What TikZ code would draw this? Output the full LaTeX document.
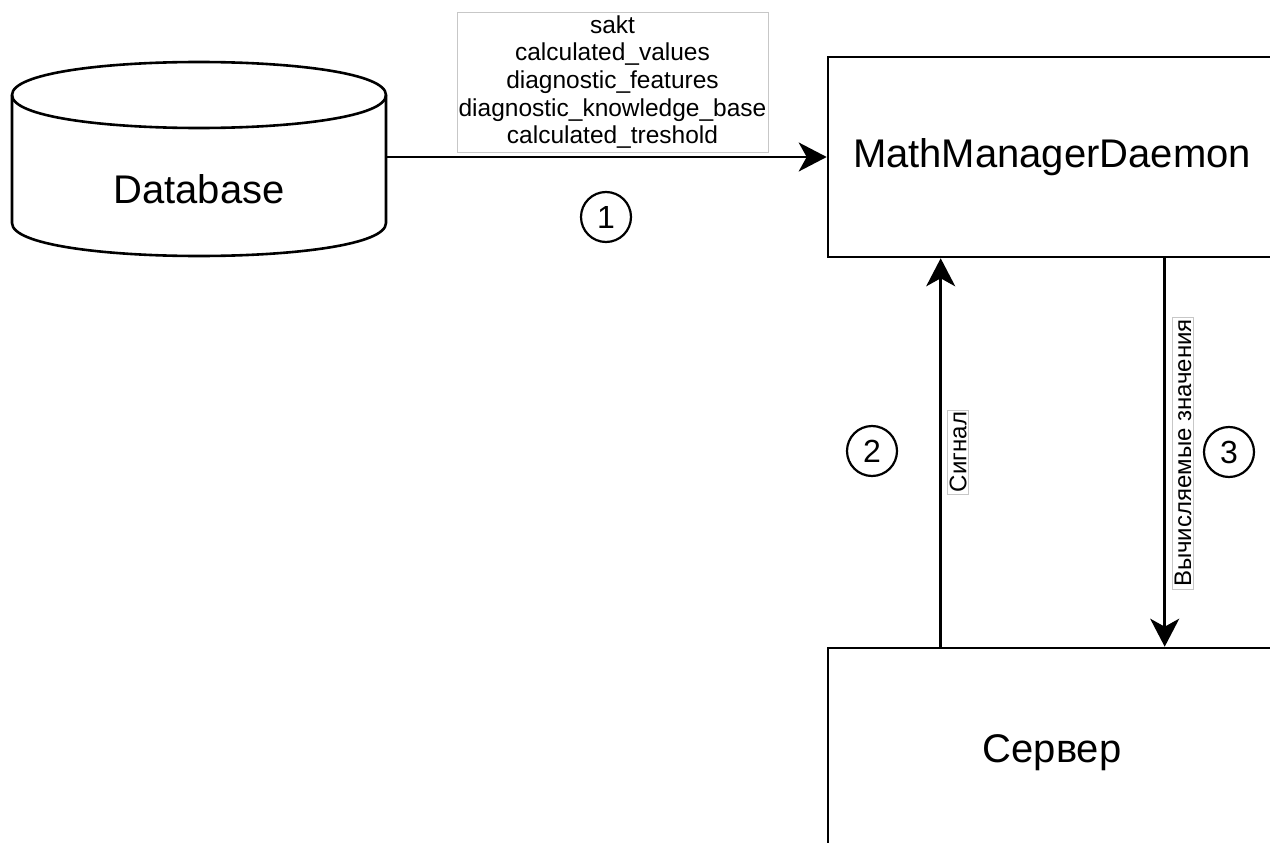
\documentclass[tikz,border=0pt]{standalone}
\usepackage{fontspec}
\setmainfont{Liberation Sans}
\usetikzlibrary{arrows.meta}
\begin{document}
\begin{tikzpicture}[x=1pt,y=-1pt,
  line/.style={line width=2.6pt, draw=black},
  conn/.style={line, -{Stealth[length=28pt,width=29pt,inset=8pt]}},
  bigtext/.style={font=\fontsize{40}{48}\selectfont},
  boxnode/.style={line, fill=white, rectangle, minimum width=448pt, minimum height=200pt, inner sep=0pt},
  numcirc/.style={circle, line width=2.2pt, draw=black, minimum size=50pt, inner sep=0pt, font=\fontsize{32}{32}\selectfont},
  edgelabel/.style={draw=black!22, line width=0.8pt, fill=white, inner sep=2pt, font=\fontsize{24}{24}\selectfont}
]
\useasboundingbox (0,0) rectangle (1270,843);

% database cylinder body and top cap
\draw[line, fill=white] (12,95) .. controls (12,51) and (386,51) .. (386,95)
  -- (386,223) .. controls (386,267) and (12,267) .. (12,223) -- cycle;
\draw[line] (12,95) .. controls (12,139) and (386,139) .. (386,95);
\node[minimum width=374pt, minimum height=194pt, inner sep=0pt] (db) at (199,159) {};
\node[bigtext] (dbtext) at (199,189) {Database};

% boxes
\node[boxnode] (mmd) at (1052,157) {};
\node[bigtext] (mmdtext) at (mmd) {MathManagerDaemon};
\node[boxnode] (srv) at (1052,748) {};
\node[bigtext] (srvtext) at (1052,753) {Сервер};

% flow 1: database -> daemon
\draw[conn] (db.east |- mmd.west) -- (mmd.west);
\node[draw=black!22, line width=0.8pt, fill=white, minimum width=311pt, minimum height=140pt,
  inner sep=0pt, align=center, font=\fontsize{24.5}{27.7}\selectfont] (tables) at (612.5,82)
  {sakt\\calculated\_values\\diagnostic\_features\\diagnostic\_knowledge\_base\\calculated\_treshold};
\node[numcirc] (n1) at (606,217) {1};

% flow 2: server -> daemon (signal)
\draw[conn] ([xshift=114pt]srv.north west) -- ([xshift=114pt]mmd.south west);
\node[edgelabel, rotate=90] (sig) at (958,452) {Сигнал};
\node[numcirc] (n2) at (872,451) {2};

% flow 3: daemon -> server (computed values)
\draw[conn] ([xshift=338pt]mmd.south west) -- ([xshift=338pt]srv.north west);
\node[edgelabel, rotate=90] (vals) at (1183,453) {Вычисляемые значения};
\node[numcirc] (n3) at (1229,452) {3};
\end{tikzpicture}
\end{document}
